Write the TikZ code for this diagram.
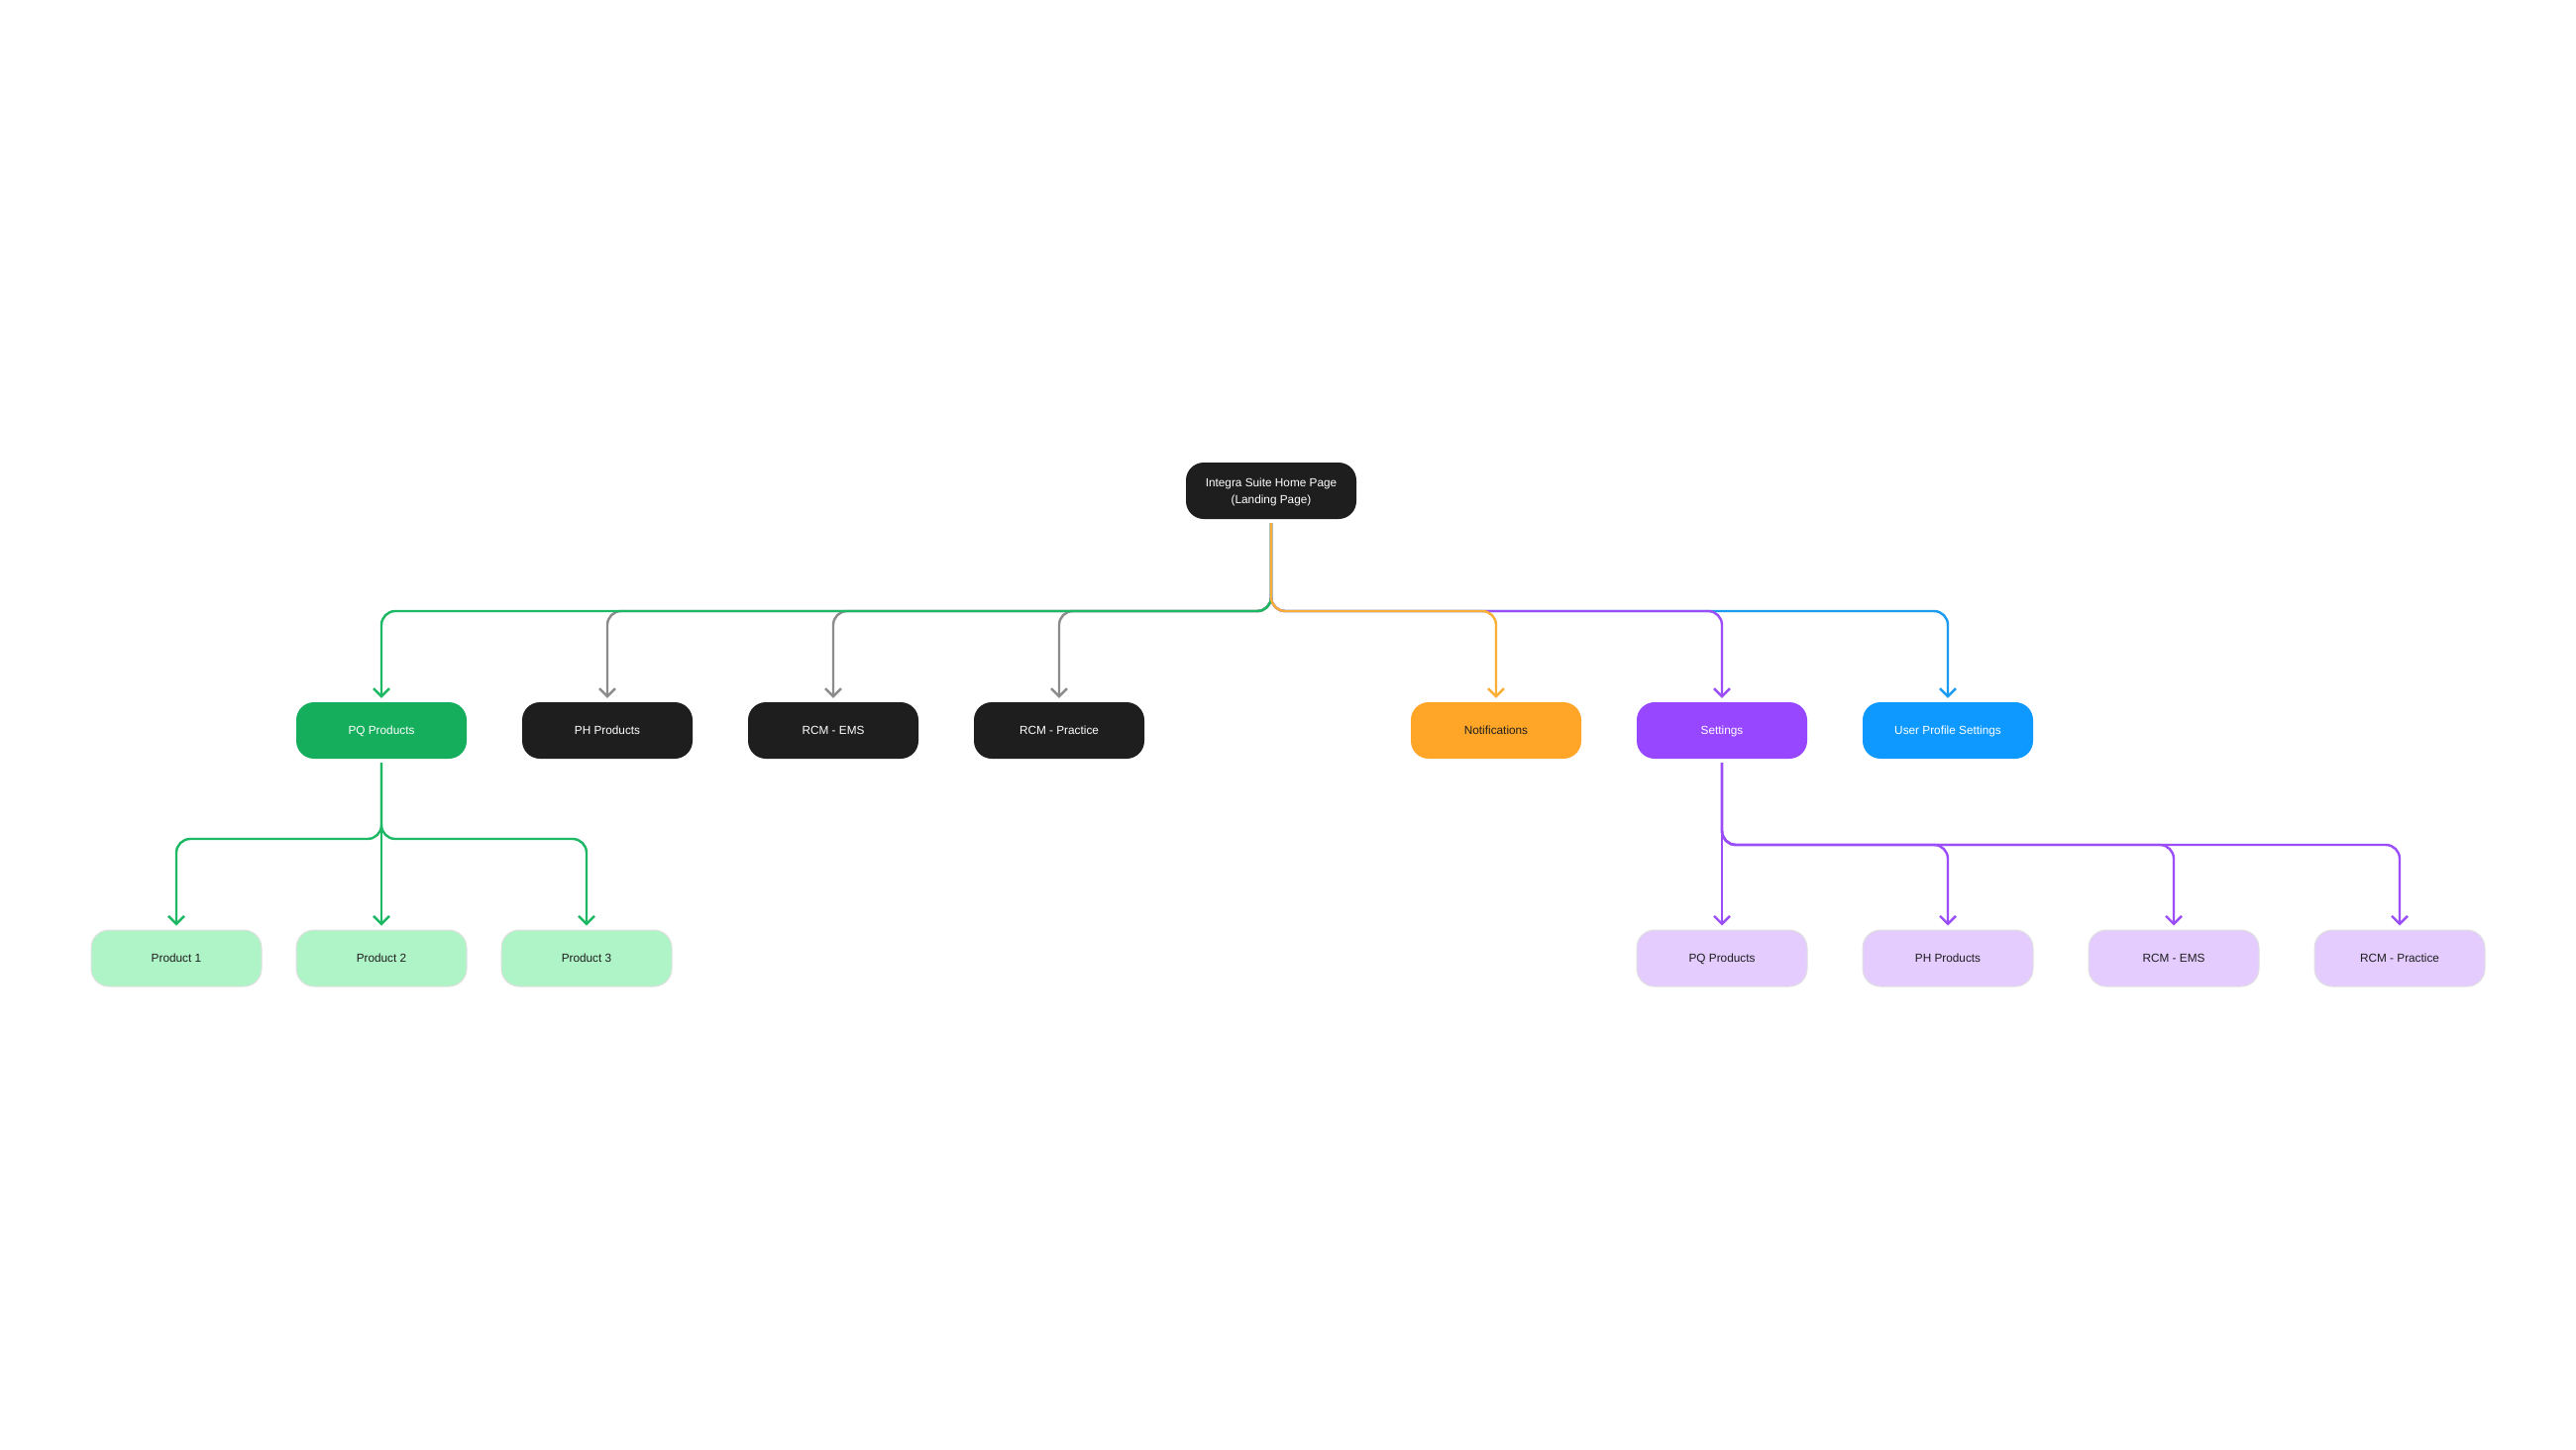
\documentclass[tikz,border=0pt]{standalone}
\usepackage{fontspec}
\setmainfont{Liberation Sans}
\usetikzlibrary{arrows.meta}
\definecolor{boxblack}{HTML}{1E1E1E}
\definecolor{boxgreen}{HTML}{14AE5C}
\definecolor{boxorange}{HTML}{FFA629}
\definecolor{boxpurple}{HTML}{9747FF}
\definecolor{boxblue}{HTML}{0D99FF}
\definecolor{lightgreen}{HTML}{AFF4C6}
\definecolor{lightpurple}{HTML}{E4CCFF}
\definecolor{linegreen}{HTML}{1DB863}
\definecolor{linegray}{HTML}{8C8C8C}
\definecolor{lineorange}{HTML}{F9AE35}
\definecolor{linepurple}{HTML}{9B4DF7}
\definecolor{lineblue}{HTML}{1A9BF0}
\tikzset{
  card/.style={rounded corners=18pt, minimum width=172pt, minimum height=57pt,
    inner sep=0pt, align=center, font=\fontsize{11.8}{17}\selectfont,
    text height=8.1pt, text depth=0pt},
  darkcard/.style={card, fill=boxblack, text=white},
  greencard/.style={card, fill=boxgreen, text=white},
  orangecard/.style={card, fill=boxorange, text=boxblack},
  purplecard/.style={card, fill=boxpurple, text=white},
  bluecard/.style={card, fill=boxblue, text=white},
  lgcard/.style={card, fill=lightgreen, draw=black!12, line width=1pt, text=boxblack},
  lpcard/.style={card, fill=lightpurple, draw=black!12, line width=1pt, text=boxblack},
  rootcard/.style={darkcard, text height=0pt, text depth=8.6pt},
  conn/.style={line width=2.4pt, rounded corners=14pt, shorten <=4pt, shorten >=4pt,
    -{Straight Barb[length=8pt,width=16pt]}},
  gconn/.style={conn, draw=linegreen},
  grconn/.style={conn, draw=linegray},
  oconn/.style={conn, draw=lineorange},
  pconn/.style={conn, draw=linepurple},
  bconn/.style={conn, draw=lineblue},
}
\begin{document}
\begin{tikzpicture}[x=1pt,y=-1pt]
\useasboundingbox[fill=white] (0,0) rectangle (2600,1464);
% nodes
\node[rootcard] (root) at (1283,495.5) {\begin{tabular}[t]{@{}c@{}}Integra Suite Home Page\\(Landing Page)\end{tabular}};
\node[greencard] (pq) at (385,737.5) {PQ Products};
\node[darkcard] (ph) at (613,737.5) {PH Products};
\node[darkcard] (ems) at (841,737.5) {RCM - EMS};
\node[darkcard] (prac) at (1069,737.5) {RCM - Practice};
\node[orangecard] (notif) at (1510,737.5) {Notifications};
\node[purplecard] (set) at (1738,737.5) {Settings};
\node[bluecard] (user) at (1966,737.5) {User Profile Settings};
\node[lgcard] (p1) at (178,967.5) {Product 1};
\node[lgcard] (p2) at (385,967.5) {Product 2};
\node[lgcard] (p3) at (592,967.5) {Product 3};
\node[lpcard] (spq) at (1738,967.5) {PQ Products};
\node[lpcard] (sph) at (1966,967.5) {PH Products};
\node[lpcard] (sems) at (2194,967.5) {RCM - EMS};
\node[lpcard] (sprac) at (2422,967.5) {RCM - Practice};
% bus levels
\coordinate (bus1) at (0,617);
\coordinate (bus2) at (0,847);
\coordinate (bus3) at (0,853);
% level 1 connectors
\foreach \t in {ph,ems,prac}
  \draw[grconn] (root.south) -- (root.south |- bus1) -- (\t.north |- bus1) -- (\t.north);
\draw[bconn] (root.south) -- (root.south |- bus1) -- (user.north |- bus1) -- (user.north);
\draw[pconn] (root.south) -- (root.south |- bus1) -- (set.north |- bus1) -- (set.north);
\draw[gconn] (root.south) -- (root.south |- bus1) -- (pq.north |- bus1) -- (pq.north);
\draw[oconn] (root.south) -- (root.south |- bus1) -- (notif.north |- bus1) -- (notif.north);
% level 2 green
\draw[gconn] (pq.south) -- (p2.north);
\foreach \t in {p1,p3}
  \draw[gconn] (pq.south) -- (pq.south |- bus2) -- (\t.north |- bus2) -- (\t.north);
% level 2 purple
\draw[pconn] (set.south) -- (spq.north);
\foreach \t in {sph,sems,sprac}
  \draw[pconn] (set.south) -- (set.south |- bus3) -- (\t.north |- bus3) -- (\t.north);
\end{tikzpicture}
\end{document}
